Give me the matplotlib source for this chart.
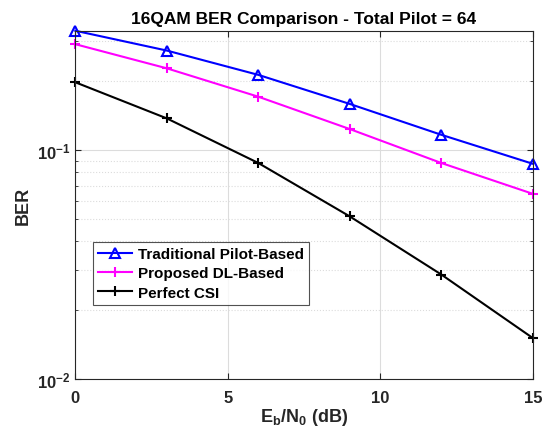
import matplotlib
matplotlib.use('Agg')
import matplotlib.pyplot as plt
from matplotlib.ticker import LogLocator, NullFormatter

plt.rcParams['font.family'] = ['Liberation Sans', 'DejaVu Sans']
plt.rcParams['font.weight'] = 'bold'
plt.rcParams['mathtext.fontset'] = 'custom'
plt.rcParams['mathtext.rm'] = 'Liberation Sans:bold'
plt.rcParams['mathtext.it'] = 'Liberation Sans:bold'
plt.rcParams['mathtext.bf'] = 'Liberation Sans:bold'

ebn0 = [0, 3, 6, 9, 12, 15]
ber_traditional = [0.332, 0.272, 0.213, 0.159, 0.1166, 0.0871]
ber_proposed = [0.290, 0.2275, 0.171, 0.1235, 0.0878, 0.0644]
ber_perfect = [0.1977, 0.1375, 0.0878, 0.0513, 0.0286, 0.0151]

fig = plt.figure(figsize=(5.42, 4.39), dpi=100)
ax = fig.add_axes([0.139, 0.1344, 0.844, 0.7926])

ax.semilogy(ebn0, ber_traditional, '-^', color='blue', lw=1.5, ms=7,
            mfc='none', mew=1.5, label='Traditional Pilot-Based', clip_on=False)
ax.semilogy(ebn0, ber_proposed, '-+', color='magenta', lw=1.5, ms=7,
            mew=1.5, label='Proposed DL-Based', clip_on=False)
ax.semilogy(ebn0, ber_perfect, '-+', color='black', lw=1.5, ms=7,
            mew=1.5, label='Perfect CSI', clip_on=False)

ax.set_xlim(0, 15)
ax.set_ylim(0.01, 0.331)
ax.set_xticks([0, 5, 10, 15])
ax.yaxis.set_major_locator(LogLocator(base=10, numticks=10))
ax.yaxis.set_minor_locator(LogLocator(base=10, subs=range(2, 10), numticks=10))
ax.yaxis.set_minor_formatter(NullFormatter())

ax.grid(True, which='major', color='#dcdcdc', lw=0.8, ls='-')
ax.grid(True, which='minor', axis='y', color='#dcdcdc', lw=0.8, ls=':')
ax.set_axisbelow(True)

for s in ax.spines.values():
    s.set_color('#262626')
    s.set_linewidth(0.8)
ax.tick_params(which='both', direction='in', top=True, right=True,
               colors='#262626', labelsize=12)
ax.tick_params(which='major', length=4)
ax.tick_params(which='minor', length=2.5)
ax.tick_params(axis='x', pad=8)

ax.set_title('16QAM BER Comparison - Total Pilot = 64', fontsize=12.5,
             fontweight='bold', pad=6)
ax.set_xlabel(r'$\mathregular{E_b/N_0}$ (dB)', fontsize=13, fontweight='bold',
              color='#262626', labelpad=1)
ax.set_ylabel('BER', fontsize=13, fontweight='bold', color='#262626')

leg = ax.legend(loc='upper left', bbox_to_anchor=(0.038, 0.395), fontsize=11,
                frameon=True, fancybox=False, edgecolor='#262626',
                borderpad=0.35, labelspacing=0.35, handlelength=2.2,
                handletextpad=0.4, borderaxespad=0)
leg.get_frame().set_linewidth(0.8)

fig.savefig('out.png', dpi=100)
